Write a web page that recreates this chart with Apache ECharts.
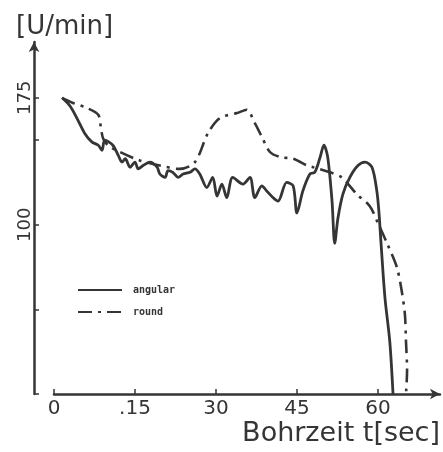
<!DOCTYPE html>
<html>
<head>
<meta charset="utf-8">
<script src="https://cdn.jsdelivr.net/npm/echarts@6/dist/echarts.min.js"></script>
<style>
  html, body { margin: 0; padding: 0; background: #fff; }
  #myChart { width: 443px; height: 452px; }
</style>
</head>
<body>
<div id="myChart"></div>
<script>
  // Bohrzeit [sec] / Drehzahl [U/min]
  const angularT = [1.5, 3.0, 4.4, 5.7, 7.0, 8.2, 8.9, 9.4, 10.9, 11.9, 12.6, 13.2, 14.1, 15.0, 15.6, 16.5, 17.8, 19.1, 19.6, 20.6, 21.1, 22.0, 23.0, 23.9, 25.2, 26.1, 27.0, 28.3, 29.4, 30.2, 31.1, 32.0, 33.1, 35.0, 36.3, 37.2, 38.5, 39.4, 40.6, 41.5, 43.1, 44.3, 45.0, 46.1, 47.4, 48.3, 49.3, 50.0, 50.7, 51.5, 52.0, 52.6, 53.5, 54.8, 56.3, 57.6, 58.9, 59.8, 60.2, 60.6, 61.3, 62.2, 62.8];
  const angularN = [175, 170, 162, 154, 149, 147, 144, 150, 147, 141, 137, 139, 134, 137, 133, 135, 137, 134, 130, 128, 132, 131, 128, 130, 131, 133, 130, 122, 128, 117, 124, 116, 128, 124, 128, 116, 123, 120, 116, 114, 125, 123, 107, 120, 130, 131, 140, 147, 140, 114, 89, 104, 118, 128, 135, 137, 134, 120, 107, 88, 57, 31, 0];

  const roundT = [1.5, 3.5, 6.1, 8.2, 8.7, 9.1, 10.0, 12.2, 15.9, 19.6, 23.3, 26.1, 28.5, 30.7, 33.9, 35.7, 37.2, 38.5, 40.0, 41.9, 44.3, 46.9, 48.0, 51.1, 53.3, 56.1, 58.5, 60.0, 61.7, 63.5, 64.4, 65.0, 65.2, 65.4, 65.2];
  const roundN = [175, 172, 169, 165, 157, 151, 147, 143, 138, 135, 133, 137, 154, 163, 166, 168, 160, 152, 143, 140, 139, 135, 134, 131, 128, 118, 111, 101, 89, 75, 61, 47, 31, 14, 0];

  const xTicks = [0, 15, 30, 45, 60];
  const xTickLabels = ['0', '.15', '30', '45', '60'];
  const yTicks = [0, 50, 100, 150, 175];
  const yLabelled = [100, 175];

  const ink = '#353535';
  const font = 'DejaVu Sans';

  const pair = (t, n) => t.map((v, i) => [v, n[i]]);

  let myChart = echarts.init(document.getElementById('myChart'));
  myChart.setOption({
    animation: false,
    backgroundColor: '#fff',
    grid: { left: 54, right: 3, top: 42, bottom: 58 },
    legend: {
      orient: 'vertical',
      left: 72,
      top: 280,
      itemWidth: 44,
      itemHeight: 10,
      itemGap: 12,
      itemStyle: { opacity: 0 },
      data: ['angular', 'round'],
      textStyle: {
        color: ink, fontFamily: 'DejaVu Sans Mono', fontWeight: 'bold', fontSize: 10,
        padding: [0, 0, 0, 6]
      }
    },
    xAxis: {
      type: 'value',
      min: 0,
      max: 71.5,
      name: 'Bohrzeit t[sec]',
      nameLocation: 'end',
      nameGap: 0,
      nameTextStyle: {
        color: ink, fontFamily: font, fontSize: 27,
        align: 'right', verticalAlign: 'top', padding: [26, 0, 0, 0]
      },
      axisLine: { onZero: false, lineStyle: { color: ink, width: 2.5 }, symbol: ['none', 'arrow'], symbolSize: [8, 10] },
      axisTick: { inside: true, length: 5, lineStyle: { color: ink, width: 1.5 }, customValues: xTicks },
      axisLabel: {
        color: ink, fontFamily: font, fontSize: 20, margin: 5,
        customValues: xTicks,
        formatter: v => xTickLabels[xTicks.indexOf(v)]
      },
      splitLine: { show: false }
    },
    yAxis: {
      type: 'value',
      min: 0,
      max: 208,
      offset: 20,
      name: '[U/min]',
      nameLocation: 'end',
      nameGap: 2,
      nameTextStyle: {
        color: ink, fontFamily: font, fontSize: 26,
        align: 'left', verticalAlign: 'bottom', padding: [0, 0, 0, -18]
      },
      axisLine: { onZero: false, lineStyle: { color: ink, width: 2.5 }, symbol: ['none', 'arrow'], symbolSize: [8, 10] },
      axisTick: { inside: true, length: 5, lineStyle: { color: ink, width: 1.5 }, customValues: yTicks },
      axisLabel: {
        color: ink, fontFamily: font, fontSize: 18, margin: 0, rotate: 90,
        customValues: yLabelled
      },
      splitLine: { show: false }
    },
    series: [
      {
        name: 'angular',
        type: 'line',
        data: pair(angularT, angularN),
        smooth: 0.3,
        symbol: 'none',
        lineStyle: { color: ink, width: 2.8 },
        itemStyle: { color: ink }
      },
      {
        name: 'round',
        type: 'line',
        data: pair(roundT, roundN),
        smooth: 0.3,
        symbol: 'none',
        lineStyle: { color: ink, width: 2.6, type: [14, 6, 3, 6] },
        itemStyle: { color: ink }
      }
    ]
  });
</script>
</body>
</html>
